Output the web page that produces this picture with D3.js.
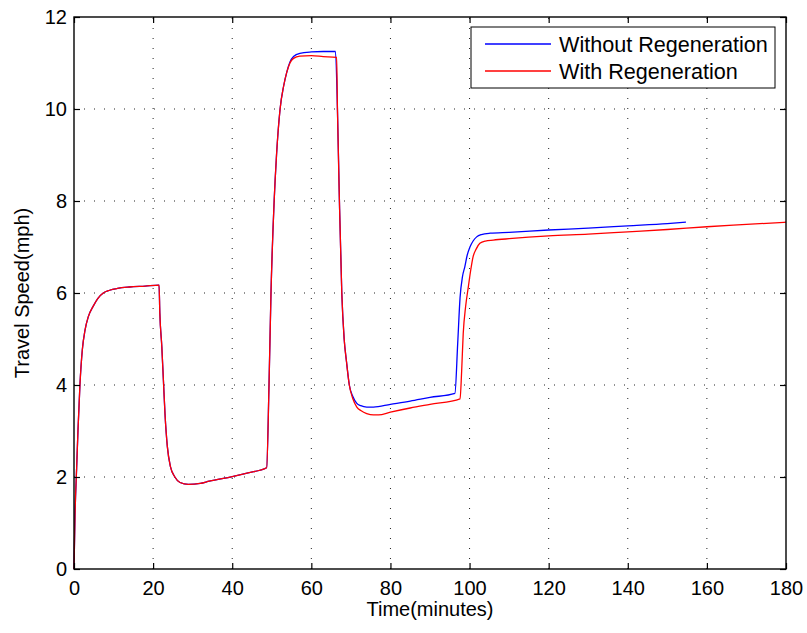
<!DOCTYPE html>
<html>
<head>
<meta charset="utf-8">
<script src="https://cdn.jsdelivr.net/npm/d3@7"></script>
<style>
  html, body { margin: 0; padding: 0; background: #fff; }
  svg { display: block; font-family: "Liberation Sans", Arial, Helvetica, sans-serif; }
</style>
</head>
<body>
<svg id="chart" width="807" height="633"></svg>
<script>
// Travel speed over time, with and without regeneration
const timeWithout = [
  0, 0.25, 0.67, 1.0, 1.5, 2.1, 2.8, 3.6, 4.9, 6, 7.4, 9, 11, 14, 18, 21.5,
  21.7, 22.2, 22.6, 23.0, 23.6, 24.4, 25.5, 26.8, 28.9, 31.9, 34.2, 40, 44, 48.7,
  49.3, 49.8, 50.6, 51.2, 52.1, 53.0, 53.8, 54.6, 55.5, 57.1, 60, 63, 66.1,
  66.6, 67.1, 67.7, 68.3, 68.9, 69.6, 70.5, 71.5, 72.5, 74, 75.7, 80, 85, 90, 96.3,
  97.0, 97.6, 98.2, 98.8, 99.4, 100.1, 100.9, 101.8, 103, 105.2, 110, 120, 130, 140, 150, 154.7
];
const speedWithout = [
  0, 1.14, 2.2, 3.0, 4.0, 4.76, 5.2, 5.48, 5.72, 5.88, 6.0, 6.06, 6.1, 6.13, 6.15, 6.17,
  5.56, 4.83, 4.11, 3.38, 2.66, 2.22, 2.0, 1.88, 1.84, 1.86, 1.91, 2.01, 2.09, 2.2,
  4.0, 6.0, 8.0, 9.0, 10.0, 10.5, 10.8, 11.02, 11.14, 11.21, 11.24, 11.25, 11.25,
  10.0, 8.0, 6.0, 5.0, 4.5, 4.0, 3.75, 3.6, 3.55, 3.52, 3.52, 3.58, 3.65, 3.73, 3.82,
  4.9, 5.9, 6.35, 6.57, 6.82, 7.0, 7.13, 7.22, 7.27, 7.3, 7.32, 7.37, 7.41, 7.46, 7.51, 7.54
];

const timeWith = [
  0, 0.25, 0.67, 1.0, 1.5, 2.1, 2.8, 3.6, 4.9, 6, 7.4, 9, 11, 14, 18, 21.5,
  21.7, 22.2, 22.6, 23.0, 23.6, 24.4, 25.5, 26.8, 28.9, 31.9, 34.2, 40, 44, 48.7,
  49.3, 49.8, 50.6, 51.2, 52.1, 53.0, 53.8, 54.6, 55.5, 57.1, 60, 63, 66.4,
  66.6, 67.1, 67.7, 68.3, 68.9, 69.6, 70.5, 71.5, 72.6, 74, 75.7, 77, 80, 85, 90, 97.6,
  98.0, 98.4, 99.0, 99.7, 100.3, 100.9, 101.7, 102.6, 104, 106, 110, 120, 130, 140, 150, 160, 170, 180
];
const speedWith = [
  0, 1.14, 2.2, 3.0, 4.0, 4.76, 5.2, 5.48, 5.72, 5.88, 6.0, 6.06, 6.1, 6.13, 6.15, 6.17,
  5.56, 4.83, 4.11, 3.38, 2.66, 2.22, 2.0, 1.88, 1.84, 1.86, 1.91, 2.01, 2.09, 2.2,
  4.0, 6.0, 8.0, 9.0, 10.0, 10.5, 10.8, 11.0, 11.1, 11.15, 11.16, 11.14, 11.12,
  10.0, 8.0, 6.0, 5.0, 4.5, 4.0, 3.7, 3.52, 3.44, 3.38, 3.35, 3.35, 3.41, 3.5, 3.58, 3.7,
  4.3, 5.12, 5.7, 6.14, 6.5, 6.79, 6.96, 7.08, 7.13, 7.15, 7.18, 7.24, 7.28, 7.33, 7.38, 7.44, 7.49, 7.54
];

const xTicks = [0, 20, 40, 60, 80, 100, 120, 140, 160, 180];
const yTicks = [0, 2, 4, 6, 8, 10, 12];
const seriesNames = ["Without Regeneration", "With Regeneration"];
const seriesColors = ["#0000ff", "#ff0000"];

const svg = d3.select("#chart");
const plotLeft = 74, plotRight = 786, plotTop = 17, plotBottom = 569;

const x = d3.scaleLinear().domain([0, 180]).range([plotLeft, plotRight]);
const y = d3.scaleLinear().domain([0, 12]).range([plotBottom, plotTop]);

// dotted grid
const grid = svg.append("g").attr("stroke", "#222").attr("stroke-width", 1)
  .attr("stroke-dasharray", "1,9");
grid.selectAll("line.vx").data(xTicks.slice(1, -1)).enter().append("line")
  .attr("x1", d => x(d)).attr("x2", d => x(d))
  .attr("y1", plotBottom).attr("y2", plotTop);
grid.selectAll("line.hy").data(yTicks.slice(1, -1)).enter().append("line")
  .attr("y1", d => y(d)).attr("y2", d => y(d))
  .attr("x1", plotLeft).attr("x2", plotRight);

// series
const line = d3.line().x(d => x(d[0])).y(d => y(d[1])).curve(d3.curveMonotoneX);
const dataWithout = timeWithout.map((t, i) => [t, speedWithout[i]]);
const dataWith = timeWith.map((t, i) => [t, speedWith[i]]);
[dataWithout, dataWith].forEach((data, i) => {
  svg.append("path").datum(data)
    .attr("fill", "none")
    .attr("stroke", seriesColors[i])
    .attr("stroke-width", 1.3)
    .attr("stroke-linejoin", "round")
    .attr("d", line);
});

// axes, ticks pointing inward
function styleAxis(g) {
  g.select(".domain").remove();
  g.selectAll(".tick line").attr("stroke", "#000").attr("stroke-width", 1.2);
  g.selectAll(".tick text").attr("fill", "#000").attr("font-size", 20)
    .attr("font-family", "'Liberation Sans', Arial, Helvetica, sans-serif");
}
svg.append("g").attr("transform", `translate(0,${plotBottom})`)
  .call(d3.axisBottom(x).tickValues(xTicks).tickSize(-6).tickPadding(12).tickFormat(d3.format("d")))
  .call(styleAxis);
svg.append("g").attr("transform", `translate(${plotLeft},0)`)
  .call(d3.axisLeft(y).tickValues(yTicks).tickSize(-6).tickPadding(7).tickFormat(d3.format("d")))
  .call(styleAxis);
svg.append("g").attr("transform", `translate(0,${plotTop})`)
  .call(d3.axisTop(x).tickValues(xTicks).tickSize(-6).tickFormat(""))
  .call(styleAxis);
svg.append("g").attr("transform", `translate(${plotRight},0)`)
  .call(d3.axisRight(y).tickValues(yTicks).tickSize(-6).tickFormat(""))
  .call(styleAxis);

// plot frame
svg.append("rect")
  .attr("x", plotLeft).attr("y", plotTop)
  .attr("width", plotRight - plotLeft).attr("height", plotBottom - plotTop)
  .attr("fill", "none").attr("stroke", "#000").attr("stroke-width", 1.4);

// axis titles
svg.append("text")
  .attr("x", (plotLeft + plotRight) / 2).attr("y", 616)
  .attr("text-anchor", "middle").attr("font-size", 20).attr("fill", "#000")
  .text("Time(minutes)");
svg.append("text")
  .attr("transform", `translate(29,${(plotTop + plotBottom) / 2}) rotate(-90)`)
  .attr("text-anchor", "middle").attr("font-size", 20).attr("fill", "#000")
  .text("Travel Speed(mph)");

// legend
const legend = svg.append("g");
legend.append("rect")
  .attr("x", 471).attr("y", 27).attr("width", 304).attr("height", 61)
  .attr("fill", "#fff").attr("stroke", "#000").attr("stroke-width", 1);
seriesNames.forEach((name, i) => {
  const cy = 44 + i * 27;
  legend.append("line")
    .attr("x1", 485).attr("x2", 551).attr("y1", cy).attr("y2", cy)
    .attr("stroke", seriesColors[i]).attr("stroke-width", 1.3);
  legend.append("text")
    .attr("x", 559).attr("y", cy + 7.8)
    .attr("font-size", 21.6).attr("fill", "#000")
    .text(name);
});
</script>
</body>
</html>
